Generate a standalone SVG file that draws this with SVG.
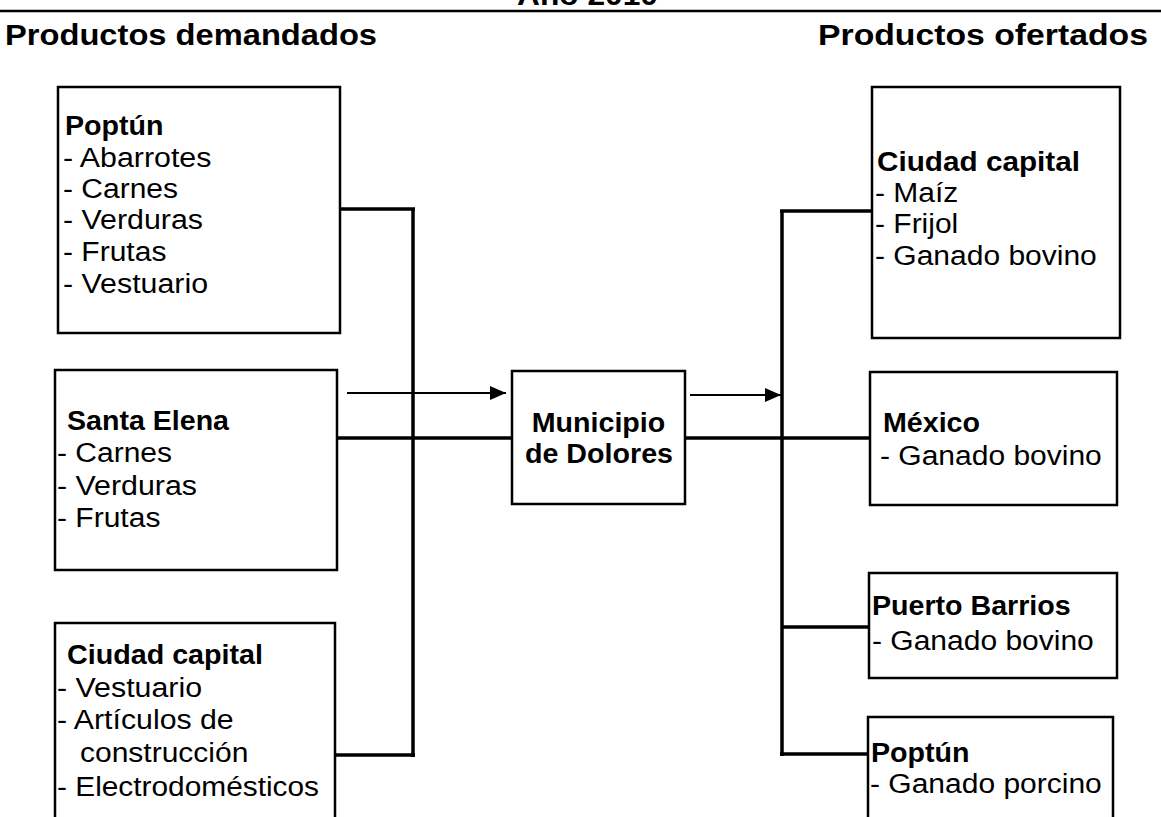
<svg xmlns="http://www.w3.org/2000/svg" width="1161" height="817" viewBox="0 0 1161 817">
<style>
text{font-family:"Liberation Sans",Arial,sans-serif;fill:#000}
.t{font-size:27px}
.b{font-size:27px;font-weight:bold}
.h{font-size:30px;font-weight:bold}
.box{fill:#fff;stroke:#000;stroke-width:2.5}
.con{stroke:#000;stroke-width:3.5;fill:none}
.arr{stroke:#000;stroke-width:2;fill:none}
</style>
<defs>
<marker id="ah" viewBox="0 0 16 14" refX="16" refY="7" markerWidth="16" markerHeight="14" markerUnits="userSpaceOnUse" orient="auto">
<path d="M0,0 L16,7 L0,14 Z" fill="#000"/>
</marker>
</defs>
<rect width="1161" height="817" fill="#fff"/>
<g id="header">
<text class="h" x="517" y="5" textLength="141" lengthAdjust="spacingAndGlyphs">Año 2010</text>
<line x1="0" y1="11" x2="1161" y2="11" stroke="#000" stroke-width="2.5"/>
<text class="h" x="5" y="45" textLength="372" lengthAdjust="spacingAndGlyphs">Productos demandados</text>
<text class="h" x="818" y="45" textLength="330" lengthAdjust="spacingAndGlyphs">Productos ofertados</text>
</g>
<g id="connectors">
<line class="con" x1="413" y1="209" x2="413" y2="757"/>
<line class="con" x1="340" y1="209" x2="415" y2="209"/>
<line class="con" x1="335" y1="755" x2="415" y2="755"/>
<line class="con" x1="337" y1="438" x2="512" y2="438"/>
<line class="con" x1="685" y1="438" x2="870" y2="438"/>
<line class="con" x1="782" y1="210" x2="782" y2="756"/>
<line class="con" x1="780" y1="211" x2="872" y2="211"/>
<line class="con" x1="782" y1="627" x2="869" y2="627"/>
<line class="con" x1="780" y1="754" x2="868" y2="754"/>
<line class="arr" x1="347" y1="393" x2="506" y2="393" marker-end="url(#ah)"/>
<line class="arr" x1="690" y1="395" x2="781" y2="395" marker-end="url(#ah)"/>
</g>
<g id="poptun-demanda">
<rect class="box" x="58" y="87" width="282" height="246"/>
<text class="b" x="65" y="135" textLength="98.5" lengthAdjust="spacingAndGlyphs">Poptún</text>
<text class="t" x="63" y="167" textLength="148.4" lengthAdjust="spacingAndGlyphs">- Abarrotes</text>
<text class="t" x="63" y="198" textLength="115" lengthAdjust="spacingAndGlyphs">- Carnes</text>
<text class="t" x="63" y="229" textLength="140" lengthAdjust="spacingAndGlyphs">- Verduras</text>
<text class="t" x="63" y="261" textLength="103.4" lengthAdjust="spacingAndGlyphs">- Frutas</text>
<text class="t" x="63" y="293" textLength="145.1" lengthAdjust="spacingAndGlyphs">- Vestuario</text>
</g>
<g id="santa-elena">
<rect class="box" x="55" y="370" width="282" height="200"/>
<text class="b" x="67" y="430" textLength="162" lengthAdjust="spacingAndGlyphs">Santa Elena</text>
<text class="t" x="57" y="462" textLength="115" lengthAdjust="spacingAndGlyphs">- Carnes</text>
<text class="t" x="57" y="495" textLength="140" lengthAdjust="spacingAndGlyphs">- Verduras</text>
<text class="t" x="57" y="527" textLength="103.4" lengthAdjust="spacingAndGlyphs">- Frutas</text>
</g>
<g id="ciudad-capital-demanda">
<rect class="box" x="55" y="623" width="280" height="220"/>
<text class="b" x="67" y="664" textLength="196" lengthAdjust="spacingAndGlyphs">Ciudad capital</text>
<text class="t" x="57" y="697" textLength="145.1" lengthAdjust="spacingAndGlyphs">- Vestuario</text>
<text class="t" x="57" y="729" textLength="176.7" lengthAdjust="spacingAndGlyphs">- Artículos de</text>
<text class="t" x="80" y="762" textLength="168.4" lengthAdjust="spacingAndGlyphs">construcción</text>
<text class="t" x="57" y="796" textLength="262" lengthAdjust="spacingAndGlyphs">- Electrodomésticos</text>
</g>
<g id="municipio">
<rect class="box" x="512" y="371" width="173" height="133"/>
<text class="b" x="598.5" y="432" text-anchor="middle" textLength="133.5" lengthAdjust="spacingAndGlyphs">Municipio</text>
<text class="b" x="599" y="463" text-anchor="middle" textLength="148" lengthAdjust="spacingAndGlyphs">de Dolores</text>
</g>
<g id="ciudad-capital-oferta">
<rect class="box" x="872" y="87" width="248" height="251"/>
<text class="b" x="877" y="171" textLength="203" lengthAdjust="spacingAndGlyphs">Ciudad capital</text>
<text class="t" x="875" y="202" textLength="83.3" lengthAdjust="spacingAndGlyphs">- Maíz</text>
<text class="t" x="875" y="233" textLength="83.3" lengthAdjust="spacingAndGlyphs">- Frijol</text>
<text class="t" x="875" y="265" textLength="221.8" lengthAdjust="spacingAndGlyphs">- Ganado bovino</text>
</g>
<g id="mexico">
<rect class="box" x="870" y="372" width="247" height="133"/>
<text class="b" x="883" y="432" textLength="97" lengthAdjust="spacingAndGlyphs">México</text>
<text class="t" x="880" y="465" textLength="221.8" lengthAdjust="spacingAndGlyphs">- Ganado bovino</text>
</g>
<g id="puerto-barrios">
<rect class="box" x="869" y="573" width="248" height="105"/>
<text class="b" x="872" y="615" textLength="198.7" lengthAdjust="spacingAndGlyphs">Puerto Barrios</text>
<text class="t" x="872" y="650" textLength="221.8" lengthAdjust="spacingAndGlyphs">- Ganado bovino</text>
</g>
<g id="poptun-oferta">
<rect class="box" x="868" y="717" width="245" height="130"/>
<text class="b" x="871" y="762" textLength="98.5" lengthAdjust="spacingAndGlyphs">Poptún</text>
<text class="t" x="870" y="793" textLength="231.8" lengthAdjust="spacingAndGlyphs">- Ganado porcino</text>
</g>
</svg>
